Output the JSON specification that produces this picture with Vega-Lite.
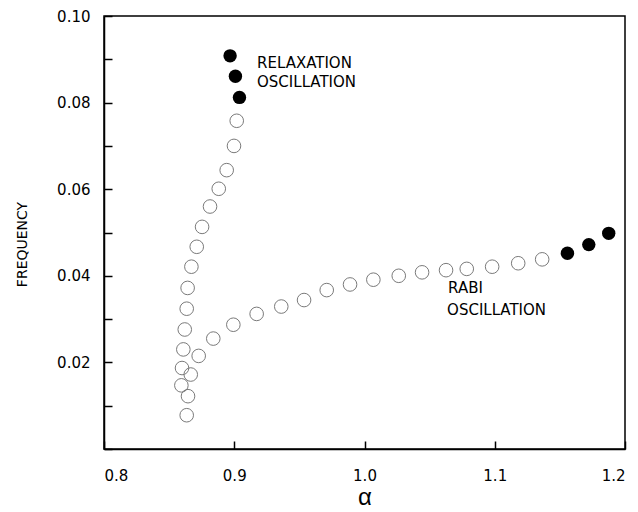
{
  "$schema": "https://vega.github.io/schema/vega-lite/v6.json",
  "width": 521,
  "height": 433,
  "autosize": {"type": "none"},
  "padding": {"left": 104, "top": 16, "right": 13, "bottom": 63},
  "background": "white",
  "config": {
    "view": {"stroke": "black", "strokeWidth": 1.5},
    "axis": {
      "domainColor": "black",
      "domainWidth": 1.5,
      "tickColor": "black",
      "tickWidth": 1.5,
      "grid": false,
      "labelFont": "DejaVu Sans",
      "labelFontSize": 15,
      "labelColor": "black",
      "titleColor": "black",
      "titleFontWeight": "normal"
    }
  },
  "datasets": {
    "pts": [
      {"a": 0.8968, "f": 0.0908, "kind": "filled"},
      {"a": 0.9009, "f": 0.0861, "kind": "filled"},
      {"a": 0.9040, "f": 0.0812, "kind": "filled"},
      {"a": 0.9019, "f": 0.0758, "kind": "open"},
      {"a": 0.8998, "f": 0.0700, "kind": "open"},
      {"a": 0.8942, "f": 0.0644, "kind": "open"},
      {"a": 0.8881, "f": 0.0601, "kind": "open"},
      {"a": 0.8814, "f": 0.0560, "kind": "open"},
      {"a": 0.8753, "f": 0.0513, "kind": "open"},
      {"a": 0.8712, "f": 0.0467, "kind": "open"},
      {"a": 0.8671, "f": 0.0421, "kind": "open"},
      {"a": 0.8642, "f": 0.0372, "kind": "open"},
      {"a": 0.8635, "f": 0.0324, "kind": "open"},
      {"a": 0.8620, "f": 0.0276, "kind": "open"},
      {"a": 0.8609, "f": 0.0230, "kind": "open"},
      {"a": 0.8599, "f": 0.0187, "kind": "open"},
      {"a": 0.8594, "f": 0.0147, "kind": "open"},
      {"a": 0.8645, "f": 0.0122, "kind": "open"},
      {"a": 0.8635, "f": 0.0078, "kind": "open"},
      {"a": 0.8666, "f": 0.0172, "kind": "open"},
      {"a": 0.8727, "f": 0.0215, "kind": "open"},
      {"a": 0.8839, "f": 0.0255, "kind": "open"},
      {"a": 0.8993, "f": 0.0287, "kind": "open"},
      {"a": 0.9172, "f": 0.0312, "kind": "open"},
      {"a": 0.9361, "f": 0.0329, "kind": "open"},
      {"a": 0.9536, "f": 0.0344, "kind": "open"},
      {"a": 0.9710, "f": 0.0367, "kind": "open"},
      {"a": 0.9889, "f": 0.0380, "kind": "open"},
      {"a": 1.0068, "f": 0.0391, "kind": "open"},
      {"a": 1.0263, "f": 0.0400, "kind": "open"},
      {"a": 1.0442, "f": 0.0408, "kind": "open"},
      {"a": 1.0626, "f": 0.0413, "kind": "open"},
      {"a": 1.0785, "f": 0.0416, "kind": "open"},
      {"a": 1.0980, "f": 0.0421, "kind": "open"},
      {"a": 1.1180, "f": 0.0429, "kind": "open"},
      {"a": 1.1364, "f": 0.0438, "kind": "open"},
      {"a": 1.1558, "f": 0.0452, "kind": "filled"},
      {"a": 1.1722, "f": 0.0472, "kind": "filled"},
      {"a": 1.1875, "f": 0.0498, "kind": "filled"}
    ],
    "notes": [
      {"a": 0.9175, "f": 0.0891, "txt": "RELAXATION"},
      {"a": 0.9175, "f": 0.0847, "txt": "OSCILLATION"},
      {"a": 1.0642, "f": 0.0372, "txt": "RABI"},
      {"a": 1.0634, "f": 0.0321, "txt": "OSCILLATION"}
    ]
  },
  "layer": [
    {
      "data": {"name": "pts"},
      "transform": [{"filter": "datum.kind == 'open'"}],
      "mark": {"type": "point", "shape": "circle", "size": 185, "filled": false, "stroke": "#7a7a7a", "strokeWidth": 1, "opacity": 1},
      "encoding": {
        "x": {
          "field": "a", "type": "quantitative",
          "scale": {"domain": [0.8, 1.2], "nice": false, "zero": false},
          "axis": {
            "values": [0.8, 0.9, 1.0, 1.1, 1.2],
            "format": ".1f",
            "tickSize": -8,
            "labelPadding": 27,
            "title": "α",
            "titleFont": "Liberation Sans",
            "titleFontSize": 24,
            "titleBaseline": "alphabetic",
            "titleY": 55
          }
        },
        "y": {
          "field": "f", "type": "quantitative",
          "scale": {"domain": [0, 0.1], "nice": false, "zero": false},
          "axis": {
            "values": [0, 0.01, 0.02, 0.03, 0.04, 0.05, 0.06, 0.07, 0.08, 0.09, 0.1],
            "labelExpr": "(round(datum.value*100) % 2 == 0 && datum.value > 0.005) ? format(datum.value, '.2f') : ''",
            "tickSize": -8,
            "labelPadding": 22,
            "title": "FREQUENCY",
            "titleFont": "DejaVu Sans",
            "titleFontSize": 14,
            "titleX": -82,
            "titleY": 228,
            "titleAngle": -90,
            "titleBaseline": "middle",
            "titleAlign": "center"
          }
        }
      }
    },
    {
      "data": {"name": "pts"},
      "transform": [{"filter": "datum.kind == 'filled'"}],
      "mark": {"type": "point", "shape": "circle", "size": 180, "filled": true, "color": "black", "opacity": 1},
      "encoding": {
        "x": {"field": "a", "type": "quantitative"},
        "y": {"field": "f", "type": "quantitative"}
      }
    },
    {
      "data": {"name": "notes"},
      "mark": {"type": "text", "align": "left", "baseline": "middle", "font": "DejaVu Sans", "fontSize": 15, "color": "black"},
      "encoding": {
        "x": {"field": "a", "type": "quantitative"},
        "y": {"field": "f", "type": "quantitative"},
        "text": {"field": "txt"}
      }
    }
  ]
}
